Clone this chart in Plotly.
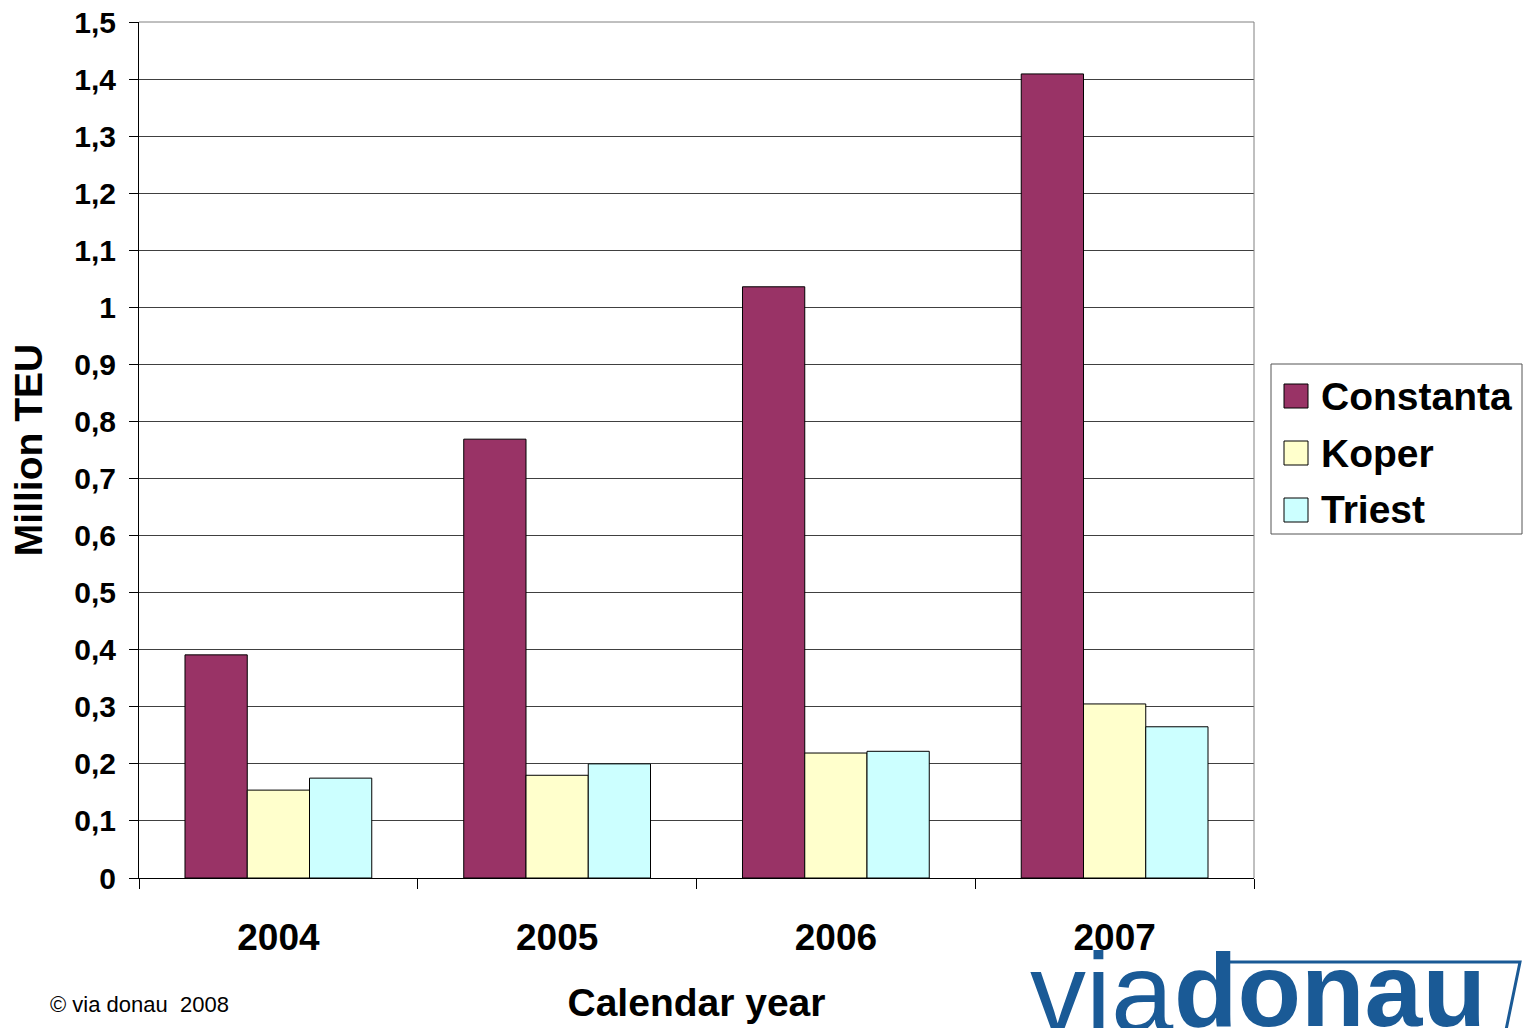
import plotly.graph_objects as go

# Container throughput of the northern Adriatic / Black Sea ports
years = ["2004", "2005", "2006", "2007"]
ports = ["Constanta", "Koper", "Triest"]
constanta = [0.391, 0.769, 1.036, 1.409]
koper = [0.154, 0.180, 0.219, 0.305]
triest = [0.175, 0.200, 0.222, 0.265]
colors = ["#993366", "#FFFFCC", "#CCFFFF"]
y_ticks = [0, 0.1, 0.2, 0.3, 0.4, 0.5, 0.6, 0.7, 0.8, 0.9, 1.0, 1.1, 1.2, 1.3, 1.4, 1.5]
y_tick_labels = ["0", "0,1", "0,2", "0,3", "0,4", "0,5", "0,6", "0,7", "0,8", "0,9",
                 "1", "1,1", "1,2", "1,3", "1,4", "1,5"]

W, H = 1523, 1028
L, R, T, B = 139, 1254, 22, 878  # plot area in pixels


def px(x):
    return (x - L) / (R - L)


def py(y):
    return (B - y) / (B - T)


FONT = "Liberation Sans, Arial, sans-serif"
fig = go.Figure()
for name, vals, col in zip(ports, [constanta, koper, triest], colors):
    fig.add_trace(go.Bar(x=years, y=vals, name=name, marker_color=col,
                         marker_line_color="black", marker_line_width=1,
                         showlegend=False))

fig.update_layout(
    width=W, height=H,
    margin=dict(l=L, r=W - R, t=T, b=H - B, pad=0, autoexpand=False),
    paper_bgcolor="white", plot_bgcolor="white",
    barmode="group", bargap=0.33, bargroupgap=0,
    font=dict(family=FONT, color="black"),
)
fig.update_xaxes(
    type="category", tickson="boundaries", ticks="outside", ticklen=10,
    tickcolor="black", showline=True, linecolor="black", linewidth=1,
    tickfont=dict(size=37, family=FONT, weight="bold"), ticklabelstandoff=27,
    title=dict(text="<b>Calendar year</b>", font=dict(size=39), standoff=31),
    showgrid=False, automargin=False,
)
fig.update_yaxes(
    range=[0, 1.5], tickvals=y_ticks, ticktext=y_tick_labels,
    ticks="outside", ticklen=9, tickcolor="black",
    showline=True, linecolor="black", linewidth=1,
    showgrid=True, gridcolor="#404040", gridwidth=1, zeroline=False,
    tickfont=dict(size=30, family=FONT, weight="bold"), ticklabelstandoff=7,
    title=dict(text="<b>Million TEU</b>", font=dict(size=39), standoff=19),
    automargin=False,
)

# top edge and right border of the plot area
fig.add_shape(type="line", xref="paper", yref="paper", x0=0, x1=1, y0=1, y1=1,
              line=dict(color="#808080", width=1))
fig.add_shape(type="line", xref="paper", yref="paper", x0=1, x1=1, y0=0, y1=1,
              line=dict(color="#808080", width=1))

# legend box
fig.add_shape(type="rect", xref="paper", yref="paper",
              x0=px(1271), x1=px(1522), y0=py(534), y1=py(364),
              line=dict(color="#555555", width=1), fillcolor="white")
for i, (name, col) in enumerate(zip(ports, colors)):
    cy = 396 + 57 * i
    fig.add_shape(type="rect", xref="paper", yref="paper",
                  x0=px(1284), x1=px(1308), y0=py(cy + 12), y1=py(cy - 12),
                  line=dict(color="black", width=1), fillcolor=col)
    fig.add_annotation(xref="paper", yref="paper", x=px(1319), y=py(cy),
                       xanchor="left", yanchor="middle", showarrow=False,
                       text=f"<b>{name}</b>", font=dict(size=39, family=FONT))

# copyright line
fig.add_annotation(xref="paper", yref="paper", x=px(48), y=py(1004),
                   xanchor="left", yanchor="middle", showarrow=False,
                   text="© via donau  2008", font=dict(size=22, family=FONT))

# via donau logo
LOGO = "#1a5a96"
fig.add_annotation(xref="paper", yref="paper", x=px(1176), y=py(928),
                   xanchor="right", yanchor="top", showarrow=False,
                   text="via", font=dict(size=112, family=FONT, color=LOGO))
fig.add_annotation(xref="paper", yref="paper", x=px(1172), y=py(930),
                   xanchor="left", yanchor="top", showarrow=False,
                   text="<b>donau</b>", font=dict(size=104, family=FONT, color=LOGO))
fig.add_shape(type="path", xref="paper", yref="paper",
              path=f"M{px(1223)},{py(962)} L{px(1520)},{py(962)} L{px(1506)},{py(1030)}",
              line=dict(color=LOGO, width=3))

fig.write_html("out.html")
